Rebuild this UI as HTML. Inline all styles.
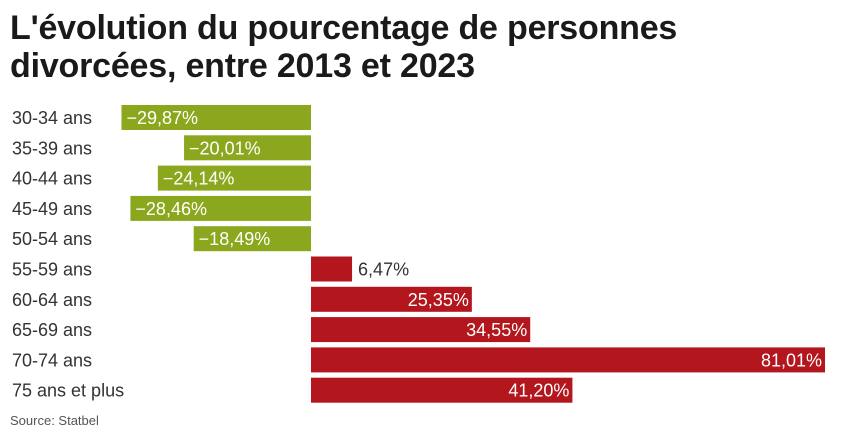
<!DOCTYPE html>
<html><head><meta charset="utf-8"><style>
body{margin:0;background:#fff;width:854px;height:440px;overflow:hidden;font-family:"Liberation Sans",sans-serif}
#t{position:absolute;left:10px;top:9px;font-size:34px;font-weight:bold;line-height:38px;color:#1a1a1a;letter-spacing:-0.2px}
#src{position:absolute;left:10px;top:413px;font-size:13px;color:#555}
svg{position:absolute;left:0;top:0}
</style></head><body>
<div id="t">L'évolution du pourcentage de personnes<br>divorcées, entre 2013 et 2023</div>
<svg id="c" width="854" height="440"></svg>
<div id="src">Source: Statbel</div>
<script>
const categories=["30-34 ans","35-39 ans","40-44 ans","45-49 ans","50-54 ans","55-59 ans","60-64 ans","65-69 ans","70-74 ans","75 ans et plus"];
const values=[-29.87,-20.01,-24.14,-28.46,-18.49,6.47,25.35,34.55,81.01,41.20];
const valueLabels=["−29,87%","−20,01%","−24,14%","−28,46%","−18,49%","6,47%","25,35%","34,55%","81,01%","41,20%"];
const svg=document.getElementById('c');const NS='http://www.w3.org/2000/svg';
const x0=311,k=6.345;const x=v=>x0+v*k;
const y=i=>105+i*30.3;const bh=25;
categories.forEach((c,i)=>{
 const t=document.createElementNS(NS,'text');
 
 
 t.setAttribute('x',12);t.setAttribute('y',y(i)+19);t.setAttribute('font-size','18');t.setAttribute('fill','#333');t.textContent=c;svg.appendChild(t);
 const v=values[i];const r=document.createElementNS(NS,'rect');
 
 
 const a=Math.min(x(0),x(v)),w=Math.abs(x(v)-x(0));
 r.setAttribute('x',a);r.setAttribute('y',y(i));r.setAttribute('width',w);r.setAttribute('height',bh);
 r.setAttribute('fill',v<0?'#8ba71d':'#b3161c');svg.appendChild(r);
 const l=document.createElementNS(NS,'text');
 
 
 l.setAttribute('font-size','18');l.setAttribute('y',y(i)+19);
 if(v<0){l.setAttribute('x',a+5);l.setAttribute('fill','#fff');}
 else if(w<80){l.setAttribute('x',a+w+6);l.setAttribute('fill','#333');}
 else{l.setAttribute('x',a+w-3);l.setAttribute('text-anchor','end');l.setAttribute('fill','#fff');}
 l.textContent=valueLabels[i];svg.appendChild(l);
});
</script>
</body></html>
